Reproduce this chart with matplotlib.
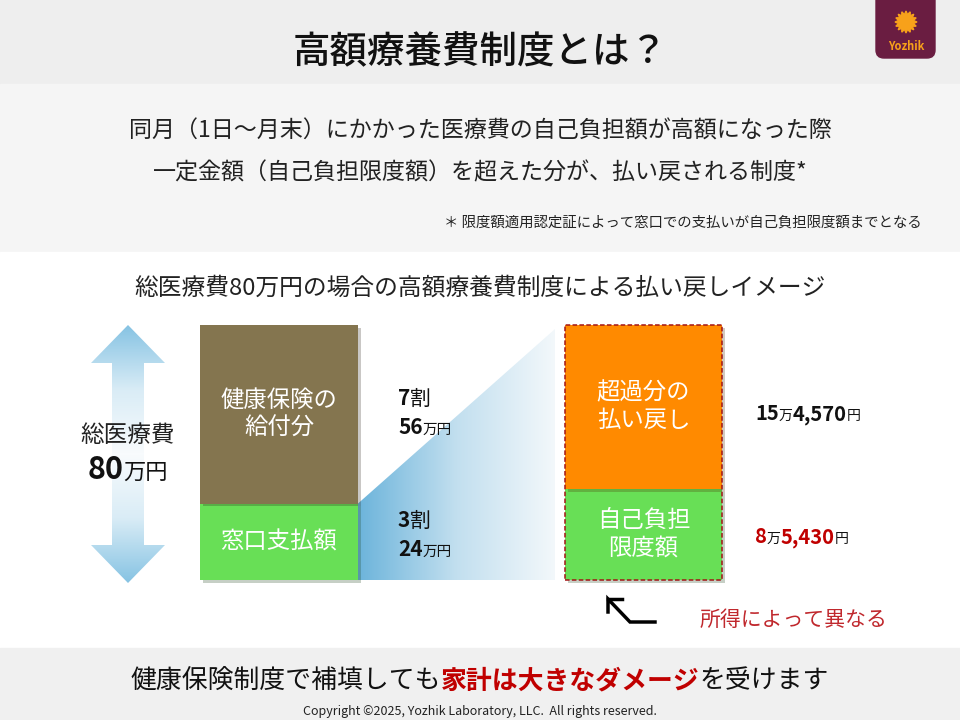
import matplotlib.pyplot as plt
import numpy as np
from matplotlib.patches import Polygon, Rectangle, FancyBboxPatch
from matplotlib.colors import LinearSegmentedColormap
import matplotlib.patheffects as pe

plt.rcParams['font.family'] = ['Noto Sans CJK JP', 'DejaVu Sans']

# data (万円 / 円)
total_cost = 80
left_labels = ['窓口支払額', '健康保険の\n給付分']
left_values = [24, 56]
left_rates = ['3割', '7割']
left_colors = ['#68df56', '#84754f']
right_labels = ['自己負担\n限度額', '超過分の\n払い戻し']
right_values = [85430, 154570]
right_colors = ['#68df56', '#ff8a00']

fig = plt.figure(figsize=(9.6, 7.2), dpi=100)
bg = fig.add_axes([0, 0, 1, 1])
bg.set_xlim(0, 960)
bg.set_ylim(720, 0)
bg.axis('off')

# background bands
bg.add_patch(Rectangle((0, 0), 960, 84, color='#eeeeee', zorder=0))
bg.add_patch(Rectangle((0, 84), 960, 168, color='#f5f5f5', zorder=0))
bg.add_patch(Rectangle((0, 252), 960, 396, color='white', zorder=0))
bg.add_patch(Rectangle((0, 648), 960, 72, color='#f0f0f0', zorder=0))

# logo
bg.add_patch(FancyBboxPatch((876, -12), 59, 70, boxstyle='round,pad=0,rounding_size=8',
                            color='#6a1d41', zorder=2))
ang = np.linspace(0, 2 * np.pi, 33)[:-1]
rad = np.where(np.arange(32) % 2 == 0, 11, 7.5)
bg.add_patch(Polygon(np.c_[906 + rad * np.cos(ang), 22 + rad * np.sin(ang)],
                     color='#f7a11a', zorder=3))
bg.text(906, 46, 'Yozhik', color='#f7a11a', fontsize=8, fontweight='bold',
        ha='center', va='center', zorder=3)

# header texts
bg.text(480, 52, '高額療養費制度とは？', fontsize=27, fontweight='medium',
        ha='center', va='center', color='#111111')
bg.text(480, 131, '同月（1日～月末）にかかった医療費の自己負担額が高額になった際',
        fontsize=16.6, ha='center', va='center', color='#222222')
bg.text(480, 173, '一定金額（自己負担限度額）を超えた分が、払い戻される制度*',
        fontsize=16.6, ha='center', va='center', color='#222222')
bg.text(922, 223, '＊ 限度額適用認定証によって窓口での支払いが自己負担限度額までとなる',
        fontsize=10.4, ha='right', va='center', color='#222222')
bg.text(480, 288, '総医療費80万円の場合の高額療養費制度による払い戻しイメージ',
        fontsize=17.1, ha='center', va='center', color='#222222')

renderer = fig.canvas.get_renderer()


def runs(x, y, parts, ha='left'):
    texts = []
    for s, size, color, weight in parts:
        texts.append(bg.text(0, y, s, fontsize=size, color=color, fontweight=weight,
                             va='baseline', ha='left', zorder=5))
    widths = [t.get_window_extent(renderer).width for t in texts]
    start = x - sum(widths) / 2 if ha == 'center' else x
    for t, w in zip(texts, widths):
        t.set_x(start)
        start += w


# left stacked bar
axl = fig.add_axes([200 / 960, (720 - 580) / 720, 158 / 960, 255 / 720])
axl.set_xlim(-0.5, 0.5)
axl.set_ylim(0, total_cost)
axl.axis('off')
bottom = 0
for lab, v, c in zip(left_labels, left_values, left_colors):
    b = axl.bar(0, v, bottom=bottom, width=1, color=c, clip_on=False)
    b[0].set_path_effects([pe.SimplePatchShadow(offset=(2, -2), alpha=0.25), pe.Normal()])
    axl.text(0, bottom + v / 2, lab, color='white', fontsize=16.8, ha='center',
             va='center', linespacing=1.25)
    bottom += v

# right stacked bar
axr = fig.add_axes([565 / 960, (720 - 580) / 720, 157 / 960, 255 / 720])
axr.set_xlim(-0.5, 0.5)
axr.set_ylim(0, sum(right_values))
axr.axis('off')
bottom = 0
for lab, v, c in zip(right_labels, right_values, right_colors):
    b = axr.bar(0, v, bottom=bottom, width=1, color=c, clip_on=False)
    b[0].set_path_effects([pe.SimplePatchShadow(offset=(2, -2), alpha=0.25), pe.Normal()])
    axr.text(0, bottom + v / 2, lab, color='white', fontsize=16.8, ha='center',
             va='center', linespacing=1.25)
    bottom += v
axr.add_patch(Rectangle((-0.5, 0), 1, sum(right_values), fill=False, ls=(0, (3, 1.5)),
                        ec='#a31515', lw=1.1, clip_on=False, zorder=4))


def to_bg(ax, pt):
    return bg.transData.inverted().transform(ax.transData.transform(pt))


# gradient wedge
x0, y_green = to_bg(axl, (0.5, left_values[0]))
_, y_bot = to_bg(axl, (0.5, 0))
_, y_top = to_bg(axr, (-0.5, sum(right_values)))
x1 = 555
wedge = Polygon([(x0, y_green), (x1, y_top + 4), (x1, y_bot), (x0, y_bot)], closed=True,
                facecolor='none', edgecolor='none')
bg.add_patch(wedge)
cmap_w = LinearSegmentedColormap.from_list('w', ['#6cb4db', '#c2dfef', '#f3f8fb'])
grad = np.linspace(0, 1, 256)[None, :]
im = bg.imshow(grad, cmap=cmap_w, extent=[x0, x1, y_bot, y_top], aspect='auto', zorder=1)
im.set_clip_path(wedge)
bg.set_xlim(0, 960)
bg.set_ylim(720, 0)

# double arrow (gradient)
cx, ty, by = 128, 325, 583
arrow = Polygon([(cx, ty), (cx - 37, ty + 38), (cx - 16, ty + 38), (cx - 16, by - 38),
                 (cx - 37, by - 38), (cx, by), (cx + 37, by - 38), (cx + 16, by - 38),
                 (cx + 16, ty + 38), (cx + 37, ty + 38)], closed=True,
                facecolor='none', edgecolor='none')
bg.add_patch(arrow)
cmap_a = LinearSegmentedColormap.from_list('a', ['#f8fbfd', '#d9ecf6', '#86c3e3'])
vg = np.abs(np.linspace(-1, 1, 256))[:, None]
im2 = bg.imshow(vg, cmap=cmap_a, extent=[cx - 37, cx + 37, by, ty], aspect='auto', zorder=1)
im2.set_clip_path(arrow)
bg.set_xlim(0, 960)
bg.set_ylim(720, 0)

bg.text(cx, 436, '総医療費', fontsize=17, ha='center', va='center', color='#222222', zorder=5)
runs(cx, 479, [(str(total_cost), 22, '#111111', 'bold'), ('万円', 16, '#111111', 'normal')],
     ha='center')

# middle labels
for v, rate, yb in zip(left_values, left_rates, [556, 434]):
    runs(398, yb - 29, [(rate[0], 15, '#111111', 'bold'), (rate[1:], 15, '#111111', 'normal')])
    runs(398, yb, [(str(v), 15, '#111111', 'bold'), ('万円', 10.5, '#111111', 'normal')])

# right labels
over = right_values[1]
limit = right_values[0]
runs(755, 420, [(str(over // 10000), 14.5, '#111111', 'bold'), ('万', 10, '#111111', 'normal'),
                (f'{over % 10000:,}', 14.5, '#111111', 'bold'), ('円', 10, '#111111', 'normal')])
runs(755, 543, [(str(limit // 10000), 14.5, '#c00000', 'bold'), ('万', 10, '#111111', 'normal'),
                (f'{limit % 10000:,}', 14.5, '#c00000', 'bold'), ('円', 10, '#111111', 'normal')])

# note arrow
bg.plot([608, 608, 630, 655], [612, 599, 622, 622], color='black', lw=2.5,
        solid_joinstyle='miter', zorder=5)
bg.plot([608, 622], [599, 599], color='black', lw=2.5, zorder=5)
bg.text(794, 620, '所得によって異なる', fontsize=15, ha='center', va='center',
        color='#c0282d', zorder=5)

# bottom message
runs(480, 688, [('健康保険制度で補填しても', 18.6, '#111111', 'normal'),
                ('家計は大きなダメージ', 18.6, '#c00000', 'bold'),
                ('を受けます', 18.6, '#111111', 'normal')], ha='center')
bg.text(480, 711, 'Copyright ©2025, Yozhik Laboratory, LLC.  All rights reserved.',
        fontsize=9, ha='center', va='center', color='#222222')

fig.savefig('out.png', dpi=100)
